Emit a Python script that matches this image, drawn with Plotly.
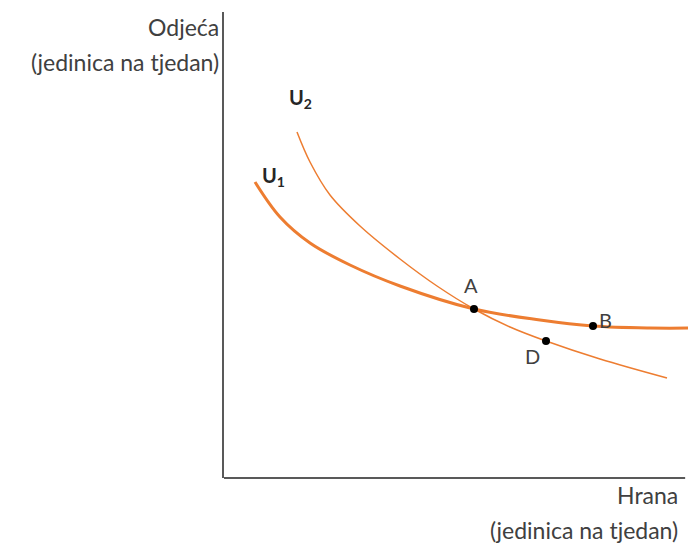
import plotly.graph_objects as go

# indifference curves (food on x, clothing on y)
u1_x = [3.1, 5.6, 8.6, 12.6, 17.6, 25.0, 31.6, 36.9, 42.6, 47.2]
u1_y = [29.6, 26.1, 23.5, 21.3, 19.2, 16.9, 15.8, 15.2, 15.0, 15.0]

u2_x = [7.3, 8.6, 10.6, 13.6, 17.6, 21.3, 25.0, 28.6, 32.2, 37.6, 44.3]
u2_y = [34.6, 31.6, 28.3, 25.2, 21.9, 19.2, 16.9, 15.1, 13.7, 11.9, 10.0]

pt_names = ["A", "B", "D"]
pt_x = [25.0, 36.9, 32.2]
pt_y = [16.9, 15.2, 13.7]

orange = "#ED7D31"
txt = "#404040"
font = "Lato, Open Sans, sans-serif"

fig = go.Figure()
fig.add_trace(go.Scatter(x=u2_x, y=u2_y, mode="lines",
                         line=dict(color=orange, width=1.5, shape="spline")))
fig.add_trace(go.Scatter(x=u1_x, y=u1_y, mode="lines",
                         line=dict(color=orange, width=3, shape="spline")))
fig.add_trace(go.Scatter(x=pt_x, y=pt_y, mode="markers",
                         marker=dict(color="black", size=8)))

# point labels
offsets = {"A": (-3, 24), "B": (12, 6), "D": (-14, -15)}
for n, x, y in zip(pt_names, pt_x, pt_y):
    dx, dy = offsets[n]
    fig.add_annotation(x=x, y=y, text=n, showarrow=False, xshift=dx, yshift=dy,
                       font=dict(size=20, color=txt, family=font))

# curve labels
fig.add_annotation(x=u2_x[0], y=u2_y[0], text="<b>U<sub>2</sub></b>", showarrow=False,
                   xshift=3, yshift=34, font=dict(size=20, color="#262626", family=font))
fig.add_annotation(x=u1_x[0], y=u1_y[0], text="<b>U<sub>1</sub></b>", showarrow=False,
                   xshift=18, yshift=6, font=dict(size=20, color="#262626", family=font))

# axis titles
for text, y in [("Odjeća", 0.968), ("(jedinica na tjedan)", 0.893)]:
    fig.add_annotation(xref="paper", yref="paper", x=-0.006, y=y, text=text,
                       showarrow=False, xanchor="right", yanchor="middle",
                       font=dict(size=23, color=txt, family=font))
for text, y in [("Hrana", -0.0365), ("(jedinica na tjedan)", -0.1116)]:
    fig.add_annotation(xref="paper", yref="paper", x=0.966, y=y, text=text,
                       showarrow=False, xanchor="right", yanchor="middle",
                       font=dict(size=23, color=txt, family=font))

# x axis line
fig.add_shape(type="line", xref="paper", yref="paper", x0=0, x1=0.977, y0=0, y1=0,
              line=dict(color="#595959", width=2))

fig.update_xaxes(range=[0, 47.2], showgrid=False, zeroline=False, showticklabels=False,
                 ticks="")
fig.update_yaxes(range=[0, 46.6], showgrid=False, zeroline=False, showticklabels=False,
                 ticks="", showline=True, linecolor="#595959", linewidth=2)
# page body has an 8px margin, so the figure is 8px smaller each way
fig.update_layout(width=688, height=539, showlegend=False,
                  margin=dict(l=216, r=0, t=4, b=69),
                  plot_bgcolor="white", paper_bgcolor="white")
fig.write_html("out.html")
